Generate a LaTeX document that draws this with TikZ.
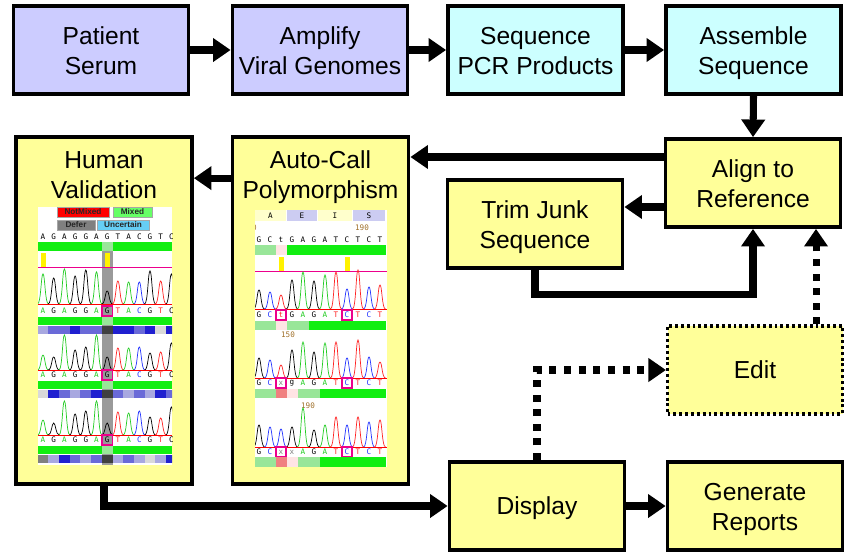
\documentclass[tikz,border=0pt]{standalone}
\usepackage{fontspec}
\setmainfont{Liberation Sans}
\setmonofont{DejaVu Sans Mono}
\usetikzlibrary{arrows.meta,calc}

\definecolor{lilac}{HTML}{CCCCFF}
\definecolor{aqua}{HTML}{CCFFFF}
\definecolor{lemon}{HTML}{FFFF99}
\definecolor{qgreen}{HTML}{11EE11}
\definecolor{lgreen}{HTML}{99E699}
\definecolor{rosy}{HTML}{FFE4E4}
\definecolor{salmon}{HTML}{F08080}
\definecolor{dblue}{HTML}{2020D0}
\definecolor{mblue}{HTML}{6A6AD8}
\definecolor{lblue}{HTML}{A8A8E0}
\definecolor{selgray}{HTML}{9A9A9A}
\definecolor{basA}{HTML}{22CC22}
\definecolor{basC}{HTML}{2233FF}
\definecolor{basT}{HTML}{FF2222}
\definecolor{brownish}{HTML}{A0702A}
\definecolor{paleyel}{HTML}{FFFFCC}
\definecolor{palelav}{HTML}{CCCCF2}

\tikzset{
  every picture/.style={x=0.03cm, y=-0.03cm},
  stage/.style={draw, line width=3.2pt, fill=#1, minimum width=5.25cm,
                minimum height=2.64cm, inner sep=0pt, align=center,
                font=\fontsize{21}{25.5}\selectfont,
                text height=42.2pt, text depth=0pt},
  stage/.default={lemon},
  oneline/.style={text height=15pt},
  tall/.style={stage, minimum width=5.28cm, minimum height=10.41cm},
  editbox/.style={line width=2.6pt, dash pattern=on 2.5pt off 2.5pt},
  title/.style={align=center, font=\fontsize{21}{25.5}\selectfont,
                text height=42.2pt, text depth=0pt},
  arr/.style={line width=6pt, -{Triangle[length=15pt,width=19.5pt]}},
  dotarr/.style={arr, dash pattern=on 6pt off 6.5pt},
  base/.style={font=\ttfamily\fontsize{6.5}{6.5}\selectfont, inner sep=0pt},
  peakline/.style={draw=#1, line width=0.6pt},
  tag/.style={draw=gray!70, line width=0.5pt, fill=#1, inner sep=0pt,
              font=\bfseries\fontsize{7}{7}\selectfont, text=black!85},
}
\def\dx{10.7}% spacing of the base calls
% row of base letters: #1 name, #2 x of first base, #3 y, #4 letter/colour
\newcommand\bases[4]{%
  \foreach \lett/\col [count=\i from 0] in {#4}
    \node[base, text=\col] (#1-\i) at ({#2+\i*\dx},#3) {\lett};}
% trace peaks: #1 x of first base, #2 baseline, #3 colour/height
\newcommand\trace[3]{%
  \foreach \col/\hgt [count=\i from 0] in {#3}
    \draw[peakline=\col] ({#1+\i*\dx-5.5},#2)
      .. controls ({#1+\i*\dx-2},#2) and ({#1+\i*\dx-2},{#2-\hgt}) .. ({#1+\i*\dx},{#2-\hgt})
      .. controls ({#1+\i*\dx+2},{#2-\hgt}) and ({#1+\i*\dx+2},#2) .. ({#1+\i*\dx+5.5},#2);}
% quality bar: #1 x of first base, #2 top, #3 bottom, #4 fills
\newcommand\qbar[4]{%
  \foreach \col [count=\i from 0] in {#4}
    \fill[\col] ({#1+(\i-0.5)*\dx},#2) rectangle ({#1+(\i+0.5)*\dx},#3);}

\begin{document}
\begin{tikzpicture}
  \useasboundingbox (0,0) rectangle (853,559);
  % stages
  \node[stage=lilac] (serum) at (101,50) {Patient\\Serum};
  \node[stage=lilac] (amplify) at (320,50) {Amplify\\Viral Genomes};
  \node[stage=aqua] (sequence) at (535.5,50) {Sequence\\PCR Products};
  \node[stage=aqua] (assemble) at (753.5,50) {Assemble\\Sequence};
  \node[stage] (align) at (753,183) {Align to\\Reference};
  \node[stage] (trim) at (535,224) {Trim Junk\\Sequence};
  \node[stage, editbox, oneline] (edit) at (755,370) {Edit};
  \node[stage, oneline] (display) at (537,506) {Display};
  \node[stage] (reports) at (755,506) {Generate\\Reports};
  \node[tall] (human) at (104,310.5) {};
  \node[tall] (autocall) at (320.5,310.5) {};
  \node[title] (humantitle) at ($(human.north)+(0,39)$) {Human\\Validation};
  \node[title] (autotitle) at ($(autocall.north)+(0,39)$) {Auto-Call\\Polymorphism};

  % connectors
  \draw[arr] (serum.east) -- (amplify.west);
  \draw[arr] (amplify.east) -- (sequence.west);
  \draw[arr] (sequence.east) -- (assemble.west);
  \draw[arr] (assemble.south) -- (align.north);
  \coordinate (alup) at ($(align.west)+(0,-26)$);
  \coordinate (aldn) at ($(align.west)+(0,24)$);
  \coordinate (acl) at ($(autocall.north west)+(0,43)$);
  \coordinate (editup) at ($(edit.north)+(61,0)$);
  \draw[arr] (alup) -- (alup -| autocall.east);
  \draw[arr] (aldn) -- (aldn -| trim.east);
  \draw[arr] (acl) -- (acl -| human.east);
  \draw[arr] (trim.south) -- ++(0,25) -| (align.south);
  \draw[dotarr] (editup) -- (editup |- align.south);
  \draw[dotarr] (display.north) |- (edit.west);
  \draw[arr] (human.south) |- (display.west);
  \draw[arr] (display.east) -- (reports.west);

  % validation screen
  \begin{scope}
    \clip (38,207) rectangle (172,465);
    \fill[white] (38,207) rectangle (172,465);
    \node[tag=red, minimum width=1.56cm, minimum height=0.3cm] (notmixed) at (83,212) {NotMixed};
    \node[tag=green!60, minimum width=1.17cm, minimum height=0.3cm] (mixed) at (132.5,212) {Mixed};
    \node[tag=gray, minimum width=1.14cm, minimum height=0.3cm] (defer) at (76,225) {Defer};
    \node[tag=cyan!60, minimum width=1.56cm, minimum height=0.3cm] (uncertain) at (123,225) {Uncertain};
    \fill[selgray] (102,242) rectangle (112.5,465);
    \bases{hv0}{43}{237}{A/black,G/black,A/black,G/black,G/black,A/black,G/black,T/black,A/black,C/black,G/black,T/black,C/black}
    \fill[qgreen] (38,242) rectangle (172,251);
    \fill[lgreen] (102,242) rectangle (112.5,251);
    \foreach \x in {43,107.2} \fill[yellow] (\x-2.5,253) rectangle (\x+2.5,267);
    \draw[magenta, line width=0.8pt] (38,267.5) -- (172,267.5);
    \trace{43}{304}{basA/30,black/26,basA/35,black/28,black/34,basA/32,black/13,basT/23,basA/22,basC/22,black/33,basT/23,black/30}
    \draw[red, line width=0.8pt] (38,304) -- (172,304);
    \bases{hv1}{43}{311}{A/basA,G/black,A/basA,G/black,G/black,A/basA,G/black,T/basT,A/basA,C/basC,G/black,T/basT,C/black}
    \draw[magenta, line width=0.9pt] (102,306) rectangle (112.5,316);
    \fill[qgreen] (38,317) rectangle (172,325);
    \fill[lgreen] (102,317) rectangle (112.5,325);
    \qbar{43}{326}{334}{lblue,mblue,mblue,dblue,mblue,mblue,black!75,dblue,dblue,mblue,dblue,gray!30,dblue}
    \trace{43}{370}{basA/15,black/13,basA/35,black/20,black/23,basA/35,black/13,basT/22,basA/22,basC/23,black/17,basT/18,black/27}
    \draw[red, line width=0.8pt] (38,370) -- (172,370);
    \bases{hv2}{43}{375}{A/basA,G/black,A/basA,G/black,G/black,A/basA,G/black,T/basT,A/basA,C/basC,G/black,T/basT,C/black}
    \draw[magenta, line width=0.9pt] (102,370) rectangle (112.5,380);
    \fill[qgreen] (38,381) rectangle (172,389);
    \fill[lgreen] (102,381) rectangle (112.5,389);
    \qbar{43}{390}{398}{gray!30,dblue,mblue,lblue,mblue,dblue,black!75,mblue,lblue,mblue,lblue,dblue,mblue}
    \trace{43}{435}{basA/15,black/12,basA/34,black/21,black/24,basA/34,black/12,basT/23,basA/22,basC/24,black/18,basT/17,black/28}
    \draw[red, line width=0.8pt] (38,435) -- (172,435);
    \bases{hv3}{43}{440}{A/basA,G/black,A/basA,G/black,G/black,A/basA,G/black,T/basT,A/basA,C/basC,G/black,T/basT,C/black}
    \draw[magenta, line width=0.9pt] (102,435) rectangle (112.5,445);
    \fill[qgreen] (38,446) rectangle (172,454);
    \fill[lgreen] (102,446) rectangle (112.5,454);
    \qbar{43}{455}{463}{gray,lblue,dblue,mblue,lblue,mblue,black!75,lblue,mblue,lblue,gray!30,lblue,dblue}
  \end{scope}

  % auto-call screen
  \begin{scope}
    \def\dx{11}
    \clip (255,210) rectangle (387,467);
    \fill[white] (255,210) rectangle (387,467);
    \fill[paleyel] (255,210) rectangle (286,221);
    \fill[palelav] (287,210) rectangle (317,221);
    \fill[paleyel] (318,210) rectangle (352,221);
    \fill[palelav] (353,210) rectangle (385,221);
    \node[base] (aa) at (270.5,215.5) {A};
    \node[base] (ae) at (302,215.5) {E};
    \node[base] (ai) at (335,215.5) {I};
    \node[base] (as) at (369,215.5) {S};
    \node[base, text=brownish] (pos0) at (254.5,228) {0};
    \node[base, text=brownish] (pos190a) at (362,228) {190};
    \bases{ac0}{259}{240}{G/black,C/black,t/black,G/black,A/black,G/black,A/black,T/black,C/black,T/black,C/black,T/black}
    \qbar{259}{245}{255}{lgreen,lgreen,rosy,qgreen,qgreen,qgreen,qgreen,qgreen,qgreen,qgreen,qgreen,qgreen}
    \foreach \x in {281,347} \fill[yellow] (\x-2.5,257) rectangle (\x+2.5,271);
    \draw[magenta, line width=0.8pt] (255,271.5) -- (387,271.5);
    \trace{259}{309}{black/19,basC/17,basT/14,black/29,basA/37,black/28,basA/34,basT/37,basC/20,basT/39,basC/22,basT/24}
    \draw[red, line width=0.8pt] (255,309) -- (387,309);
    \bases{ac1}{259}{315}{G/black,C/basC,t/basT,G/black,A/basA,G/black,A/basA,T/basT,C/basC,T/basT,C/basC,T/basT}
    \foreach \x in {281,347} \draw[magenta, line width=0.9pt] (\x-5,310) rectangle (\x+5,320);
    \qbar{259}{321}{330}{lgreen,lgreen,rosy,lgreen,lgreen,qgreen,qgreen,qgreen,qgreen,qgreen,qgreen,qgreen}
    \node[base, text=brownish] (pos150) at (288,335) {150};
    \trace{259}{378}{black/20,basC/18,basT/13,black/28,basA/36,black/26,basA/35,basT/36,basC/20,basT/38,basC/21,basT/16}
    \draw[red, line width=0.8pt] (255,378) -- (387,378);
    \bases{ac2}{259}{383}{G/black,C/basC,x/gray,g/black,A/basA,G/black,A/basA,T/basT,C/basC,T/basT,C/basC,T/basT}
    \foreach \x in {281,347} \draw[magenta, line width=0.9pt] (\x-5,378) rectangle (\x+5,388);
    \qbar{259}{389}{398}{lgreen,lgreen,salmon,rosy,lgreen,lgreen,qgreen,qgreen,qgreen,qgreen,qgreen,qgreen}
    \node[base, text=brownish] (pos190b) at (308,406) {190};
    \trace{259}{447}{black/22,basC/20,basC/18,black/20,basA/39,black/17,basA/22,basT/30,basC/22,basT/30,basC/25,basT/27}
    \draw[red, line width=0.8pt] (255,447) -- (387,447);
    \bases{ac3}{259}{452}{G/black,C/basC,x/gray,x/gray,A/basA,G/black,A/basA,T/basT,C/basC,T/basT,C/basC,T/basT}
    \foreach \x in {281,347} \draw[magenta, line width=0.9pt] (\x-5,447) rectangle (\x+5,457);
    \qbar{259}{457}{467}{lgreen,lgreen,salmon,rosy,lgreen,lgreen,qgreen,qgreen,qgreen,qgreen,qgreen,qgreen}
  \end{scope}
\end{tikzpicture}
\end{document}
